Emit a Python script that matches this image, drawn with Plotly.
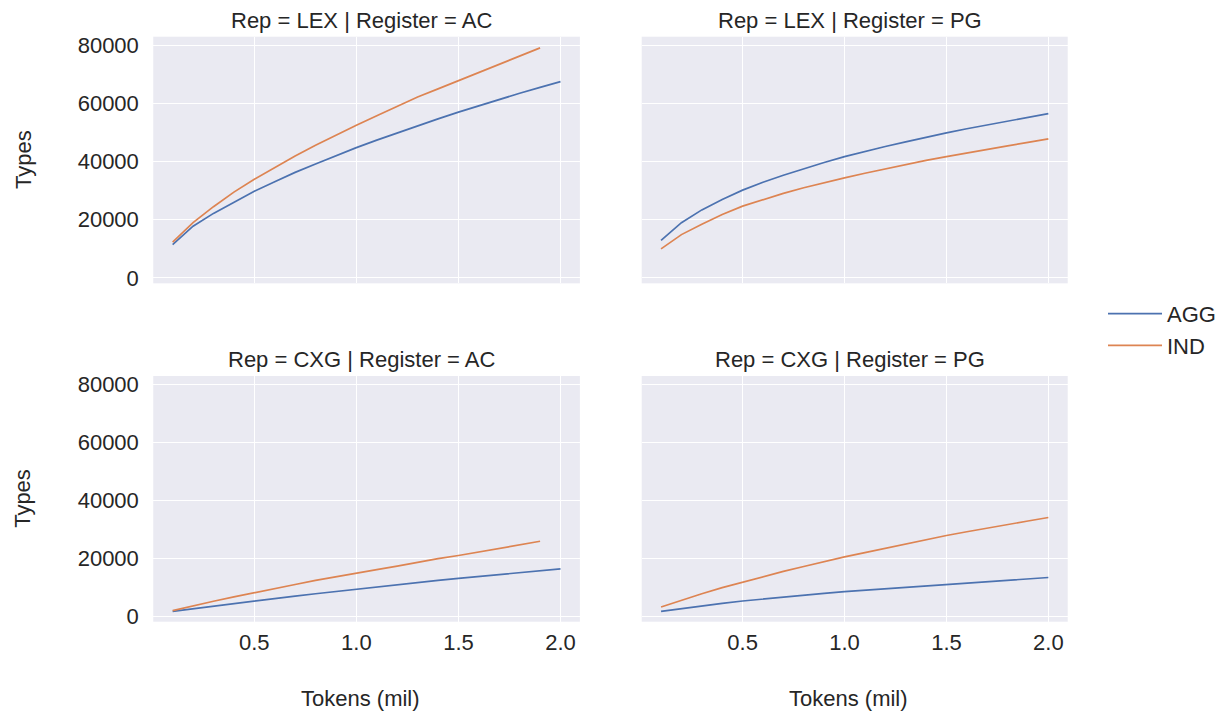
import plotly.graph_objects as go

# ---- data ----
tokens = [0.1, 0.2, 0.3, 0.4, 0.5, 0.6, 0.7, 0.8, 0.9, 1.0,
          1.1, 1.2, 1.3, 1.4, 1.5, 1.6, 1.7, 1.8, 1.9, 2.0]
tokens_ind_ac = tokens[:19]

lex_ac_agg = [11.5, 17.8, 22.2, 26.1, 29.8, 33.1, 36.3, 39.2, 42.1, 44.8,
              47.4, 49.9, 52.3, 54.7, 57.0, 59.2, 61.4, 63.5, 65.5, 67.5]
lex_ac_ind = [12.3, 19.0, 24.5, 29.5, 33.9, 38.0, 41.9, 45.6, 49.1, 52.5,
              55.8, 58.9, 62.2, 65.0, 67.8, 70.6, 73.4, 76.2, 79.1]
lex_pg_agg = [12.9, 19.0, 23.4, 27.0, 30.2, 32.9, 35.3, 37.6, 39.7, 41.7,
              43.5, 45.2, 46.8, 48.4, 49.9, 51.3, 52.6, 54.0, 55.3, 56.5]
lex_pg_ind = [10.0, 14.9, 18.5, 21.8, 24.7, 27.0, 29.1, 31.0, 32.8, 34.4,
              36.0, 37.5, 38.9, 40.4, 41.7, 43.0, 44.2, 45.4, 46.6, 47.8]
cxg_ac_agg = [1.7, 2.6, 3.5, 4.5, 5.4, 6.2, 7.0, 7.8, 8.6, 9.4,
              10.2, 11.0, 11.7, 12.4, 13.1, 13.8, 14.5, 15.2, 15.8, 16.4]
cxg_ac_ind = [2.0, 3.7, 5.2, 6.7, 8.2, 9.7, 11.0, 12.4, 13.7, 14.9,
              16.1, 17.3, 18.7, 19.9, 21.0, 22.2, 23.4, 24.6, 25.9]
cxg_pg_agg = [1.7, 2.7, 3.6, 4.5, 5.3, 6.0, 6.7, 7.3, 7.9, 8.5,
              9.0, 9.5, 10.0, 10.5, 11.0, 11.5, 12.0, 12.5, 12.9, 13.4]
cxg_pg_ind = [3.2, 5.6, 7.8, 9.9, 11.8, 13.7, 15.5, 17.2, 18.9, 20.5,
              22.0, 23.5, 25.0, 26.5, 27.9, 29.2, 30.5, 31.7, 32.9, 34.1]

panel_titles = ["Rep = LEX | Register = AC", "Rep = LEX | Register = PG",
                "Rep = CXG | Register = AC", "Rep = CXG | Register = PG"]
series_names = ["AGG", "IND"]
x_title = "Tokens (mil)"
y_title = "Types"
y_ticks = [0, 20000, 40000, 60000, 80000]
x_ticks = [0.5, 1.0, 1.5, 2.0]

# ---- style ----
BLUE = "#4C72B0"
ORANGE = "#DD8452"
BG = "#EAEAF2"
TXT = "#262626"
FONT = "Liberation Sans, Arial, sans-serif"
FS = 22
W, H = 1226, 711

panels = [
    (tokens, lex_ac_agg, tokens_ind_ac, lex_ac_ind),
    (tokens, lex_pg_agg, tokens, lex_pg_ind),
    (tokens, cxg_ac_agg, tokens_ind_ac, cxg_ac_ind),
    (tokens, cxg_pg_agg, tokens, cxg_pg_ind),
]

xdom = [[0.125, 0.473], [0.5234, 0.8709]]
ydom = [[0.6015, 0.9484], [0.1256, 0.4712]]

fig = go.Figure()
layout = dict(
    width=W, height=H,
    margin=dict(l=0, r=0, t=0, b=0, autoexpand=False),
    paper_bgcolor="white",
    plot_bgcolor=BG,
    font=dict(family=FONT, size=FS, color=TXT),
    showlegend=True,
    legend=dict(x=1103 / W, y=0.536, xanchor="left", yanchor="middle",
                font=dict(size=FS, color=TXT), bgcolor="rgba(0,0,0,0)",
                tracegroupgap=0, itemwidth=54),
)

annotations = []
for i, (xa, ya, xb, yb) in enumerate(panels):
    r, c = divmod(i, 2)
    n = i + 1
    xs = "x" if n == 1 else f"x{n}"
    ys = "y" if n == 1 else f"y{n}"
    fig.add_trace(go.Scatter(x=xa, y=[v * 1000 for v in ya], mode="lines",
                             name=series_names[0], legendgroup=series_names[0],
                             showlegend=(i == 0),
                             line=dict(color=BLUE, width=1.7),
                             xaxis=xs, yaxis=ys))
    fig.add_trace(go.Scatter(x=xb, y=[v * 1000 for v in yb], mode="lines",
                             name=series_names[1], legendgroup=series_names[1],
                             showlegend=(i == 0),
                             line=dict(color=ORANGE, width=1.7),
                             xaxis=xs, yaxis=ys))
    xkey = "xaxis" if n == 1 else f"xaxis{n}"
    ykey = "yaxis" if n == 1 else f"yaxis{n}"
    layout[xkey] = dict(
        domain=xdom[c], anchor=ys, range=[0.005, 2.095], automargin=False,
        tickvals=x_ticks, ticktext=[f"{t:.1f}" for t in x_ticks],
        showticklabels=(r == 1), showgrid=True, gridcolor="white", gridwidth=1.3,
        zeroline=False, showline=False, ticks="outside", ticklen=1,
        tickcolor="rgba(0,0,0,0)",
        tickfont=dict(size=FS, color=TXT),
    )
    layout[ykey] = dict(
        domain=ydom[r], anchor=xs, range=[-1850, 82950], automargin=False,
        tickvals=y_ticks, ticktext=[str(t) for t in y_ticks],
        showticklabels=(c == 0), showgrid=True, gridcolor="white", gridwidth=1.3,
        zeroline=False, showline=False, ticks="outside", ticklen=9,
        tickcolor="rgba(0,0,0,0)",
        tickfont=dict(size=FS, color=TXT),
    )
    xc = (xdom[c][0] + xdom[c][1]) / 2
    annotations.append(dict(
        text=panel_titles[i], xref="paper", yref="paper",
        x=xc, y=ydom[r][1], xshift=-5,
        xanchor="center", yanchor="bottom", yshift=2, showarrow=False,
        font=dict(size=FS, color=TXT),
    ))
    if c == 0:
        annotations.append(dict(
            text=y_title, xref="paper", yref="paper", textangle=-90,
            x=23 / W, y=(ydom[r][0] + ydom[r][1]) / 2,
            xanchor="center", yanchor="middle", showarrow=False,
            font=dict(size=FS, color=TXT),
        ))
    if r == 1:
        annotations.append(dict(
            text=x_title, xref="paper", yref="paper",
            x=xc, y=1 - 698 / H, xshift=-6,
            xanchor="center", yanchor="middle", showarrow=False,
            font=dict(size=FS, color=TXT),
        ))

layout["annotations"] = annotations
fig.update_layout(**layout)
fig.write_html("out.html", config={"displayModeBar": False},
               post_script="document.body.style.margin='0';document.body.style.overflow='hidden';")
